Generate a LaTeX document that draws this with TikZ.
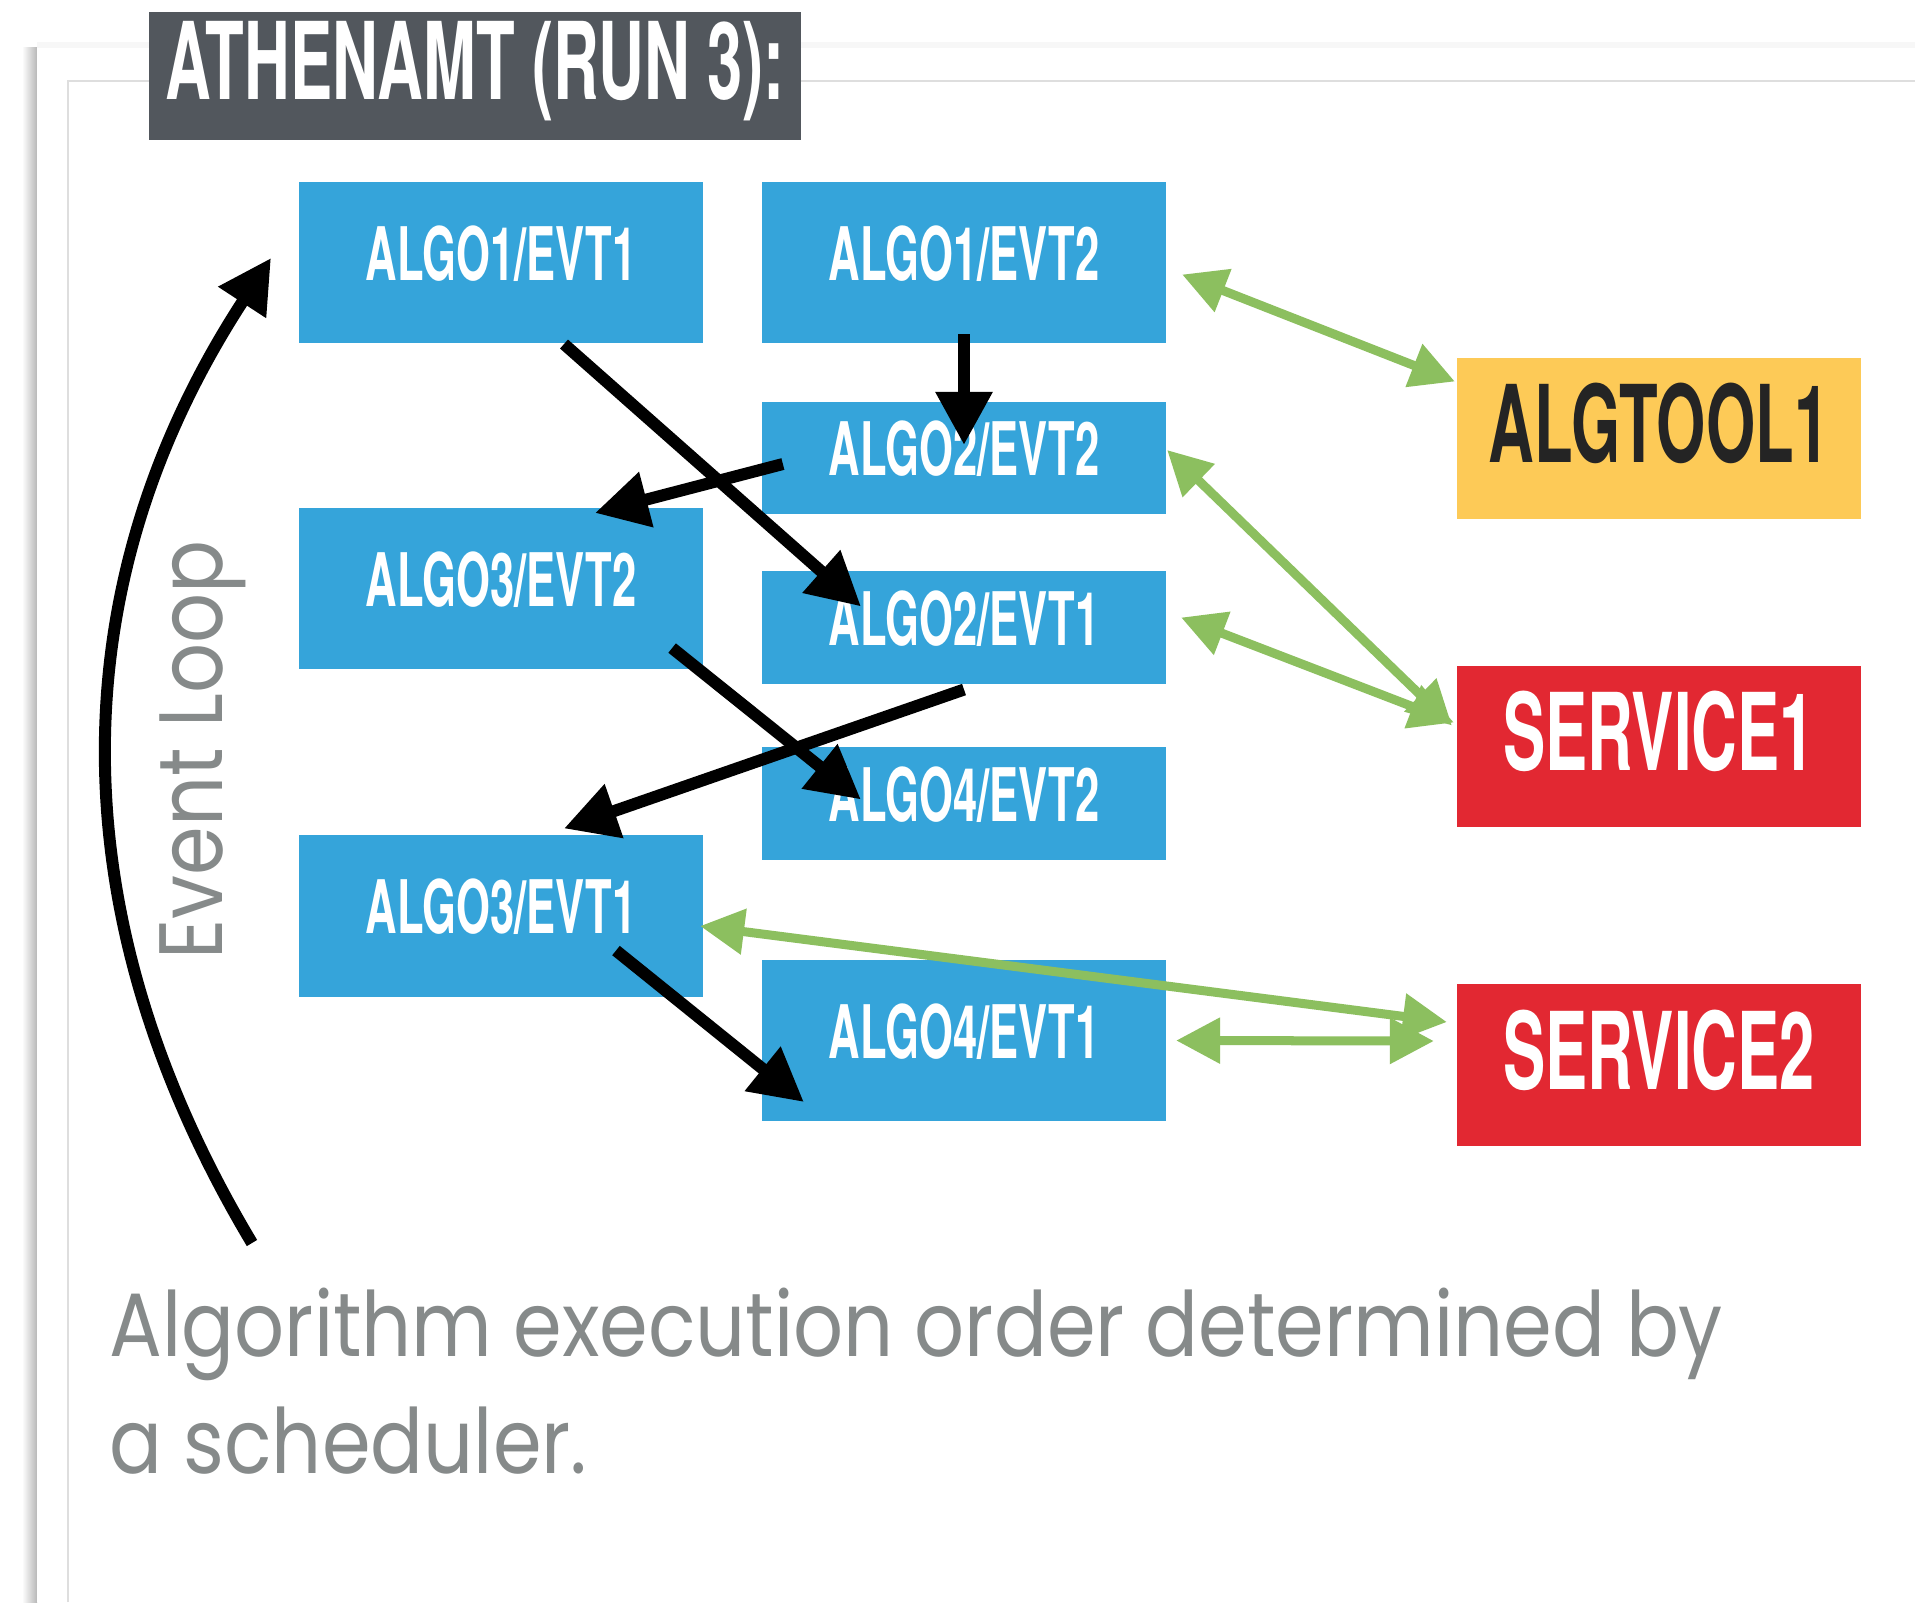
\documentclass[tikz,border=0pt]{standalone}
\usepackage{fontspec}
\setmainfont{Poppins}
\newfontfamily\dinfont[FakeStretch=0.59]{TeX Gyre Heros}
\newfontfamily\notefont[FakeStretch=0.87]{Poppins}
\usetikzlibrary{arrows.meta,calc}

\definecolor{algblue}{HTML}{35A4DA}
\definecolor{toolyellow}{HTML}{FDCA57}
\definecolor{svcred}{HTML}{E22832}
\definecolor{linkgreen}{HTML}{8CBF5F}
\definecolor{titlegray}{HTML}{52575D}
\definecolor{notegray}{HTML}{868A8A}

\begin{document}
\begin{tikzpicture}[x=0.01cm, y=-0.01cm,
    algbox/.style={fill=algblue, text=white, inner sep=0pt, outer sep=0pt,
      minimum width=4.04cm, minimum height=1.61cm,
      font=\dinfont\bfseries\fontsize{21}{21}\selectfont,
      text height=0.53cm, text depth=0.18cm},
    algsmall/.style={algbox, minimum height=1.12cm},
    toolbox/.style={algbox, fill=toolyellow, text=black!86,
      font=\dinfont\bfseries\fontsize{30.5}{30.5}\selectfont,
      text height=0.77cm, text depth=0.29cm},
    svcbox/.style={toolbox, fill=svcred, text=white},
    titlebox/.style={fill=titlegray, text=white, inner sep=0pt, outer sep=0pt,
      minimum width=6.52cm, minimum height=1.28cm,
      font=\dinfont\bfseries\fontsize{30.5}{30.5}\selectfont,
      text height=0.76cm, text depth=0.30cm},
    note/.style={text=notegray, inner sep=0pt, font=\notefont\fontsize{25.6}{30}\selectfont},
    blk/.style={-{Triangle[length=0.53cm,width=0.54cm]}, line width=0.12cm, black},
    grn/.style={{Triangle[length=0.44cm,width=0.44cm]}-{Triangle[length=0.44cm,width=0.44cm]},
      line width=0.09cm, linkgreen}]

  \useasboundingbox (0,0) rectangle (1915,1602);

  % card behind the diagram
  \fill[white] (0,0) rectangle (1915,1602);
  \shade[left color=white, right color=black!28] (22,47) rectangle (37,1602);
  \fill[black!3] (37,42) rectangle (1915,48);
  \fill[white] (37,48) rectangle (1915,1602);
  \draw[black!13, line width=0.025cm] (68,1602) |- (1915,81);

  \node[titlebox] (title) at (475,76) {ATHENAMT (RUN 3):};

  % algorithms per event
  \node[algbox]   (a11) at (501,262.5)  {ALGO1/EVT1};
  \node[algbox]   (a12) at (964,262.5)  {ALGO1/EVT2};
  \node[algsmall] (a22) at (964,458)    {ALGO2/EVT2};
  \node[algbox]   (a32) at (501,588.5)  {ALGO3/EVT2};
  \node[algsmall] (a21) at (964,627.5)  {ALGO2/EVT1};
  \node[algsmall] (a42) at (964,803.5)  {ALGO4/EVT2};
  \node[algbox]   (a31) at (501,916)    {ALGO3/EVT1};
  \node[algbox]   (a41) at (964,1040.5) {ALGO4/EVT1};

  % tools and services
  \node[toolbox] (tool) at (1659,438.5) {ALGTOOL1};
  \node[svcbox]  (svc1) at (1659,746.5) {SERVICE1};
  \node[svcbox]  (svc2) at (1659,1065)  {SERVICE2};

  % execution order
  \draw[blk] ($(a11.south)+(63,1)$)         -- ($(a21.north)+(-103,35)$);
  \draw[blk] ($(a12.south)+(0,-9)$)         -- ($(a22.north)+(0,43)$);
  \draw[blk] ($(a22.west)+(21,6)$)          -- ($(a32.north)+(94,5)$);
  \draw[blk] ($(a32.south east)+(-31,-21)$) -- ($(a42.north west)+(99,52)$);
  \draw[blk] ($(a21.south)+(0,6)$)          -- ($(a31.north)+(63,-7)$);
  \draw[blk] ($(a31.south)+(115,-46)$)      -- ($(a41.west)+(42,61.5)$);

  % shared tools and services
  \draw[grn] ($(a12.east)+(16,12)$)  -- ($(tool.west)+(-2,-57)$);
  \draw[grn] ($(a22.east)+(1,-8)$)   -- ($(svc1.west)+(-5,-21)$);
  \draw[grn] ($(a21.east)+(15,-10)$) -- ($(svc1.west)+(-3,-24)$);
  \draw[grn] ($(a31.east)+(-3,10)$)  -- ($(svc2.west)+(-10,-43)$);
  \draw[grn] ($(a41.east)+(10,0)$)   -- ($(svc2.west)+(-23,-24)$);

  % event loop
  \coordinate (loopstart) at (252,1243);
  \coordinate (loopend) at (271,258);
  \draw[blk] (loopstart) to[bend left=32] (loopend);
  \node[note, rotate=90, anchor=base] (evloop) at (222,750) {Event Loop};

  \node[note, anchor=base west] (cap1) at (109,1356) {Algorithm execution order determined by};
  \node[note, anchor=base west] (cap2) at (109,1473) {a scheduler.};
\end{tikzpicture}
\end{document}
